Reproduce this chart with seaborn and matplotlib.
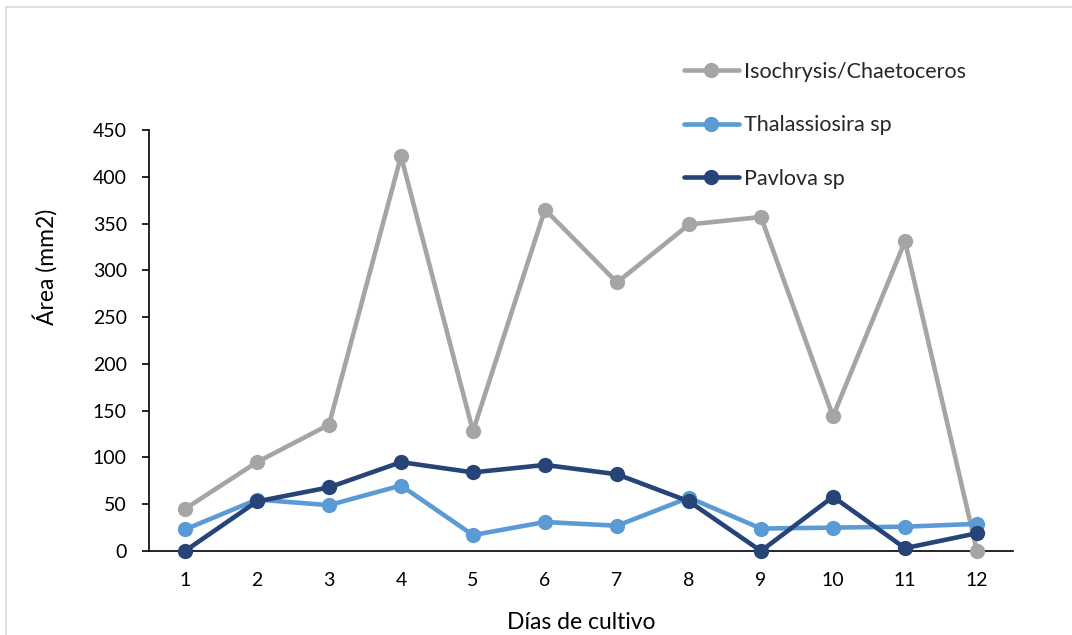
import matplotlib
matplotlib.use("Agg")
import matplotlib.pyplot as plt
from matplotlib.lines import Line2D
import seaborn as sns
import pandas as pd

dias = [1, 2, 3, 4, 5, 6, 7, 8, 9, 10, 11, 12]
iso_chaeto = [45, 95, 135, 422, 128, 365, 287, 349, 357, 144, 331, 0]
thalassiosira = [23, 55, 49, 70, 17, 31, 27, 57, 24, 25, 26, 29]
pavlova = [0, 53, 68, 95, 84, 92, 82, 53, 0, 58, 3, 19]
series_names = ["Isochrysis/Chaetoceros", "Thalassiosira sp", "Pavlova sp"]
colors = ["#A5A5A5", "#5B9BD5", "#264478"]
y_ticks = [0, 50, 100, 150, 200, 250, 300, 350, 400, 450]

frames = []
for name, vals in zip(series_names, [iso_chaeto, thalassiosira, pavlova]):
    frames.append(pd.DataFrame({"dia": dias, "area": vals, "serie": name}))
df = pd.concat(frames, ignore_index=True)

sns.set_theme(style="white")
plt.rcParams["font.family"] = ["Lato", "DejaVu Sans"]

fig = plt.figure(figsize=(10.72, 6.35), dpi=100)
ax = fig.add_axes([149 / 1072, 1 - 551 / 635, (1013 - 149) / 1072, (551 - 130) / 635])

sns.lineplot(data=df, x="dia", y="area", hue="serie", hue_order=series_names,
             palette=colors, marker="o", markersize=11, markeredgewidth=0,
             linewidth=3.3, dashes=False, ax=ax, clip_on=False)

ax.set_xlim(0.5, 12.5)
ax.set_ylim(0, 450)
ax.set_xticks(dias)
ax.set_xticklabels([str(d) for d in dias])
ax.set_yticks(y_ticks)
ax.set_yticklabels([str(t) for t in y_ticks])

for s in ["top", "right"]:
    ax.spines[s].set_visible(False)
for s in ["left", "bottom"]:
    ax.spines[s].set_color("black")
    ax.spines[s].set_linewidth(1.2)
    ax.spines[s].set_zorder(0.5)

ax.tick_params(axis="y", which="major", direction="out", length=5, width=1.2,
               color="black", left=True, labelsize=14, pad=11, labelcolor="black")
ax.tick_params(axis="x", which="major", length=0, labelsize=14, pad=15,
               labelcolor="black")

ax.set_xlabel("Días de cultivo", fontsize=16.5, color="black", labelpad=17)
ax.set_ylabel("Área (mm2)", fontsize=16.5, color="black")
ax.yaxis.set_label_coords(-0.106, 0.675)

handles = [Line2D([0], [0], color=c, linewidth=3.3, marker="o", markersize=11,
                  markeredgewidth=0) for c in colors]
ax.legend(handles, series_names, loc="upper left",
          bbox_to_anchor=(684 / 1072, 1 - 62 / 635), bbox_transform=fig.transFigure,
          frameon=False, fontsize=15.5, handlelength=2.55, handletextpad=0.25,
          labelspacing=1.55, borderpad=0, borderaxespad=0)

# chart border (top and left visible)
fig.add_artist(Line2D([6 / 1072, 1], [1 - 7 / 635, 1 - 7 / 635], transform=fig.transFigure,
                      color="#D9D9D9", linewidth=1.2))
fig.add_artist(Line2D([6 / 1072, 6 / 1072], [0, 1 - 7 / 635], transform=fig.transFigure,
                      color="#D9D9D9", linewidth=1.2))

fig.savefig("out.png", dpi=100)
